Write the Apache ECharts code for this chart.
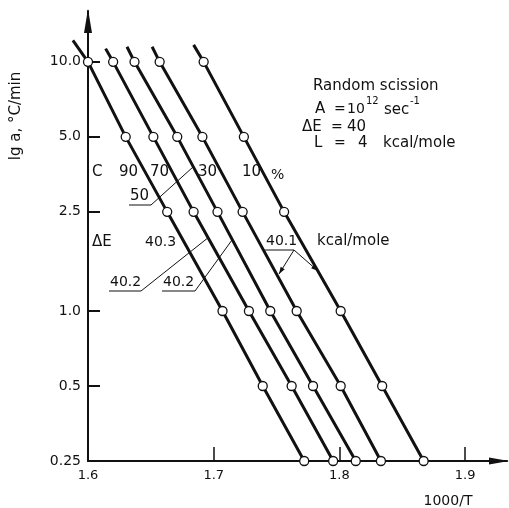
<!DOCTYPE html>
<html>
<head>
<meta charset="utf-8">
<script src="https://cdn.jsdelivr.net/npm/echarts@6/dist/echarts.min.js"></script>
<style>
  html, body { margin: 0; padding: 0; background: #fff; }
  #chart { width: 509px; height: 508px; }
</style>
</head>
<body>
<div id="chart"></div>
<script>
// Heating rate a (°C/min) for each constant-conversion line
const rates = [10, 5, 2.5, 1.0, 0.5, 0.25];

// 1000/T at which each conversion C (%) is reached, one value per heating rate
const conv90 = [1.600, 1.630, 1.663, 1.707, 1.739, 1.772];
const conv70 = [1.620, 1.652, 1.684, 1.728, 1.762, 1.795];
const conv50 = [1.637, 1.671, 1.703, 1.745, 1.779, 1.813];
const conv30 = [1.657, 1.691, 1.723, 1.766, 1.801, 1.833];
const conv10 = [1.692, 1.724, 1.756, 1.801, 1.834, 1.867];

// upper ends of the drawn lines (1000/T, rate), order 90, 70, 50, 30, 10 %
const topX = [1.588, 1.614, 1.631, 1.651, 1.684];
const topRate = [12.2, 11.3, 11.5, 11.5, 11.7];

// axis ticks
const xTickValues = [1.6, 1.7, 1.8, 1.9];
const xTickLabels = ['1.6', '1.7', '1.8', '1.9'];
const yTickValues = [0.25, 0.5, 1, 2.5, 5, 10];
const yTickLabels = ['0.25', '0.5', '1.0', '2.5', '5.0', '10.0'];

const FONT = 'DejaVu Sans';
const INK = '#111';
const X_MIN = 1.6;

const chart = echarts.init(document.getElementById('chart'), null, { renderer: 'canvas' });

const conversions = [conv90, conv70, conv50, conv30, conv10];
const series = conversions.map((xs, k) => {
  const pts = rates.map((r, i) => [xs[i], r]);
  // an upper end left of the y axis is drawn separately below
  const head = topX[k] >= X_MIN ? [{ value: [topX[k], topRate[k]], symbol: 'none' }] : [];
  return {
    type: 'line',
    clip: false,
    showAllSymbol: true,
    symbol: 'circle',
    symbolSize: 9,
    z: 3,
    lineStyle: { color: INK, width: 3 },
    itemStyle: { color: '#fff', borderColor: INK, borderWidth: 1.3 },
    emphasis: { disabled: true },
    silent: true,
    animation: false,
    data: head.concat(pts)
  };
});

function txt(x, y, s, size, extra) {
  const el = {
    type: 'text', x: x, y: y, silent: true,
    style: Object.assign({
      text: s, fill: INK, font: size + 'px "' + FONT + '"',
      align: 'left', verticalAlign: 'middle'
    }, (extra && extra.style) || {})
  };
  if (extra && extra.rotation !== undefined) el.rotation = extra.rotation;
  return el;
}
function seg(points, w) {
  return {
    type: 'polyline', silent: true,
    shape: { points: points },
    style: { stroke: INK, lineWidth: w || 1, fill: null }
  };
}
function arrowHead(x1, y1, x2, y2) {
  const a = Math.atan2(y2 - y1, x2 - x1), L = 7, H = 2.4;
  const bx = x2 - L * Math.cos(a), by = y2 - L * Math.sin(a);
  return {
    type: 'polygon', silent: true,
    shape: { points: [[x2, y2],
      [bx + H * Math.sin(a), by - H * Math.cos(a)],
      [bx - H * Math.sin(a), by + H * Math.cos(a)]] },
    style: { fill: INK }
  };
}

const graphics = [
  // axis titles
  txt(16, 116, 'lg a, °C/min', 15, { rotation: Math.PI / 2, style: { align: 'center' } }),
  txt(448, 501, '1000/T', 14, { style: { align: 'center' } }),

  // parameter block
  txt(313, 86, 'Random scission', 15),
  txt(315, 109, 'A', 15),
  txt(334, 109, '=', 14),
  txt(347, 109, '10', 14),
  txt(366, 101, '12', 10),
  txt(384, 110, 'sec', 15),
  txt(410, 101, '-1', 10),
  txt(302, 127, 'ΔE', 15),
  txt(331, 127, '=', 14),
  txt(347, 127, '40', 15),
  txt(314, 143, 'L', 15),
  txt(334, 143, '=', 14),
  txt(358, 143, '4', 15),
  txt(383, 143, 'kcal/mole', 15),

  // conversion labels
  txt(92, 172, 'C', 15),
  txt(119, 172, '90', 15),
  txt(150, 172, '70', 15),
  txt(198, 172, '30', 15),
  txt(242, 172, '10', 15),
  txt(271, 175, '%', 14),
  txt(130, 196, '50', 15),
  seg([[129, 205], [151, 205], [193, 167]]),

  // activation energy labels
  txt(92, 242, 'ΔE', 15),
  txt(145, 242, '40.3', 14),
  txt(110, 282, '40.2', 14),
  seg([[109, 291], [141, 291], [209, 237]]),
  txt(163, 282, '40.2', 14),
  seg([[162, 291], [195, 291], [232, 240]]),
  txt(266, 241, '40.1', 14),
  seg([[265, 250], [294, 250]]),
  seg([[294, 250], [279, 274]]),
  arrowHead(294, 250, 279, 274),
  seg([[294, 250], [318, 271]]),
  arrowHead(294, 250, 318, 271),
  txt(317, 241, 'kcal/mole', 15)
];

chart.setOption({
  animation: false,
  backgroundColor: '#fff',
  grid: { left: 88, top: 11, width: 419, height: 450, containLabel: false },
  xAxis: {
    type: 'value', min: X_MIN, max: 1.9333,
    axisLine: { show: true, lineStyle: { color: INK, width: 2 },
      symbol: ['none', 'triangle'], symbolSize: [7, 20], symbolOffset: [0, -8] },
    axisTick: { show: true, inside: true, length: 14, customValues: xTickValues,
      lineStyle: { color: INK, width: 1.5 } },
    axisLabel: { customValues: xTickValues, color: INK, fontFamily: FONT, fontSize: 13, margin: 8,
      formatter: v => xTickLabels[xTickValues.findIndex(t => Math.abs(t - v) < 1e-6)] || '' },
    splitLine: { show: false }
  },
  yAxis: {
    type: 'log', logBase: 2, min: 0.25, max: 16,
    axisLine: { show: true, lineStyle: { color: INK, width: 2 },
      symbol: ['none', 'triangle'], symbolSize: [8, 24], symbolOffset: [0, -10] },
    axisTick: { show: true, inside: true, length: 12, customValues: yTickValues,
      lineStyle: { color: INK, width: 2 } },
    axisLabel: { customValues: yTickValues, color: INK, fontFamily: FONT, fontSize: 14, margin: 7,
      formatter: v => yTickLabels[yTickValues.findIndex(t => Math.abs(t - v) < 1e-6)] || '' },
    splitLine: { show: false }
  },
  series: series,
  graphic: graphics
});

// upper ends that run past the y axis: placed through the chart's own scales
const extra = [];
conversions.forEach((xs, k) => {
  if (topX[k] < X_MIN) {
    const a = chart.convertToPixel({ gridIndex: 0 }, [topX[k], topRate[k]]);
    const b = chart.convertToPixel({ gridIndex: 0 }, [xs[0], rates[0]]);
    extra.push({
      type: 'line', silent: true, z: 2,
      shape: { x1: a[0], y1: a[1], x2: b[0], y2: b[1] },
      style: { stroke: INK, lineWidth: 3 }
    });
  }
});
chart.setOption({ graphic: graphics.concat(extra) });
</script>
</body>
</html>
